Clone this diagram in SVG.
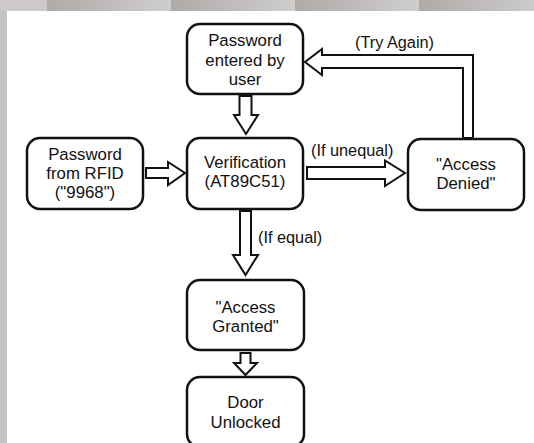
<svg xmlns="http://www.w3.org/2000/svg" width="534" height="443" viewBox="0 0 534 443">
<defs>
<linearGradient id="band" x1="0" y1="0" x2="1" y2="0">
<stop offset="0" stop-color="#adaaa8"/>
<stop offset="1" stop-color="#d0cecd"/>
</linearGradient>
</defs>
<style>
.box{fill:#fff;stroke:#111;stroke-width:2.5}
.arr{fill:#fff;stroke:#111;stroke-width:2;stroke-linejoin:miter}
text{font-family:"Liberation Sans",Arial,sans-serif;font-size:16.8px;fill:#111;text-anchor:middle}
.lbl{font-size:16.3px;text-anchor:start}
</style>
<g id="background">
<rect x="0" y="0" width="534" height="443" fill="#c6c4c3"/>
<rect x="0" y="0" width="47" height="11" fill="#cdcac9"/>
<rect x="47" y="0" width="124" height="11" fill="url(#band)"/>
<rect x="171" y="0" width="124" height="11" fill="url(#band)"/>
<rect x="295" y="0" width="124" height="11" fill="url(#band)"/>
<rect x="419" y="0" width="124" height="11" fill="url(#band)"/>
<rect x="7" y="11" width="527" height="432" fill="#fff"/>
</g>
<g id="connectors">
<path class="arr" d="M239.5,96 H251.5 V115 H258 L246,134 L234,115 H239.5 Z"/>
<path class="arr" d="M146,168 H168 V162 L185,173 L168,185 V178 H146 Z"/>
<path class="arr" d="M307,167 H385 V160.5 L405,173 L385,186 V179 H307 Z"/>
<path class="arr" d="M240,211 H251 V255 H258 L245.5,275 L233,255 H240 Z"/>
<path class="arr" d="M240.5,353 H250.5 V363 H257 L245.5,375 L234,363 H240.5 Z"/>
<path class="arr" d="M463,138 V68 H322 V75 L305,62 L322,49 V55 H473 V138 Z"/>
<text class="lbl" x="355" y="48">(Try Again)</text>
<text class="lbl" x="311" y="156">(If unequal)</text>
<text class="lbl" x="258" y="243">(If equal)</text>
</g>
<g id="node-user">
<rect class="box" x="187" y="24" width="116" height="70" rx="13"/>
<text x="245" y="46">Password</text>
<text x="245" y="65.5">entered by</text>
<text x="245" y="85">user</text>
</g>
<g id="node-rfid">
<rect class="box" x="27" y="138" width="116" height="71" rx="13"/>
<text x="85" y="160">Password</text>
<text x="85" y="179">from RFID</text>
<text x="85" y="198">("9968")</text>
</g>
<g id="node-verification">
<rect class="box" x="187" y="138" width="116" height="71" rx="13"/>
<text x="245" y="168">Verification</text>
<text x="245" y="187">(AT89C51)</text>
</g>
<g id="node-denied">
<rect class="box" x="408" y="139" width="116" height="71" rx="13"/>
<text x="466" y="170">"Access</text>
<text x="466" y="189">Denied"</text>
</g>
<g id="node-granted">
<rect class="box" x="187" y="280" width="117" height="70" rx="13"/>
<text x="245.5" y="313">"Access</text>
<text x="245.5" y="332">Granted"</text>
</g>
<g id="node-door">
<rect class="box" x="187" y="377" width="117" height="70" rx="13"/>
<text x="245.5" y="408">Door</text>
<text x="245.5" y="427.5">Unlocked</text>
</g>
</svg>
